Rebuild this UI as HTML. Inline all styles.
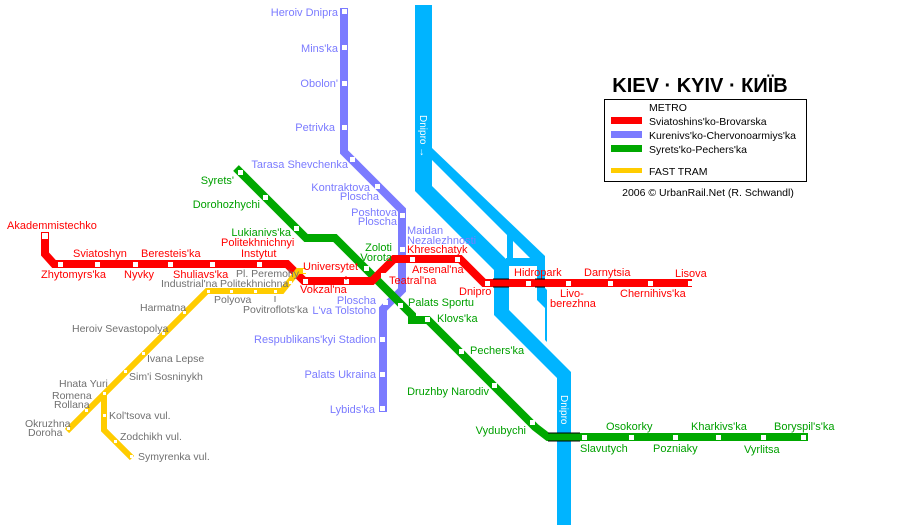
<!DOCTYPE html>
<html><head><meta charset="utf-8"><style>
html,body{margin:0;padding:0;background:#fff}
svg{display:block}
text{font-family:"Liberation Sans","DejaVu Sans",sans-serif;font-size:11px}
.r{fill:#f00}.b{fill:#7b7bff}.g{fill:#00a000}.y text{fill:#707070;font-size:10.5px}
.lg{font-size:10.5px}
.ttl{font-size:20px;font-weight:bold}
.rv{font-size:10px;fill:#fff}
</style></head><body>
<svg width="900" height="530" viewBox="0 0 900 530" xmlns="http://www.w3.org/2000/svg">
<!-- river -->
<g fill="#00b4ff" stroke="none">
<polygon points="415,5 432,5 432,186 509,262 509,310 571,372 571,525 557,525 557,378 494,315 494,270 415,191"/>
<polygon points="432,148 432,160 537,265 537,300 545,308 545,340 547,342 547,290 545,288 545,256 432,148"/>
<polygon points="506,258 541,258 541,266 506,266"/>
<polygon points="507,230 513,236 513,262 507,262"/>
</g>
<text x="0" y="0" transform="translate(420,115) rotate(90)" class="rv">Dnipro →</text>
<text x="0" y="0" transform="translate(561,395) rotate(90)" class="rv">Dnipro</text>

<!-- blue -->
<polyline points="344,8 344,152 402,210 402,290 383,309 383,412" fill="none" stroke="#7b7bff" stroke-width="8"/>
<!-- green -->
<polyline points="236,168 306,238 335,238 412,315 412,320 428,320 535,427 548,437 808,437" fill="none" stroke="#00a800" stroke-width="8"/>
<line x1="548" y1="433" x2="580" y2="433" stroke="#000" stroke-width="1"/>
<line x1="548" y1="441" x2="580" y2="441" stroke="#000" stroke-width="1"/>
<!-- red -->
<polyline points="45,232 45,254 54,264 287,264 304,281 372,281 394,259 460,259 484,283 692,283" fill="none" stroke="#f00" stroke-width="8"/>
<g stroke="#000" stroke-width="1"><line x1="493" y1="279" x2="509" y2="279"/><line x1="493" y1="287" x2="509" y2="287"/><line x1="535" y1="279" x2="545" y2="279"/><line x1="535" y1="287" x2="545" y2="287"/></g>
<!-- yellow -->
<polyline points="306,271 298,271 282,291 207,291 67,431" fill="none" stroke="#ffcc00" stroke-width="6"/>
<polyline points="104,394 104,430 132,458" fill="none" stroke="#ffcc00" stroke-width="6"/>

<!-- stations -->
<g fill="#fff">
<rect x="342" y="9" width="5" height="5"/><rect x="342" y="45" width="5" height="5"/><rect x="342" y="81" width="5" height="5"/><rect x="342" y="125" width="5" height="5"/><rect x="350" y="157" width="5" height="5"/><rect x="375" y="184" width="5" height="5"/><rect x="400" y="213" width="5" height="5"/><rect x="400" y="247" width="5" height="5"/><rect x="383" y="300" width="5" height="5"/><rect x="380" y="337" width="5" height="5"/><rect x="380" y="372" width="5" height="5"/><rect x="380" y="406" width="5" height="5"/>
<rect x="238" y="170" width="5" height="5"/><rect x="263" y="195" width="5" height="5"/><rect x="294" y="226" width="5" height="5"/><rect x="364" y="266" width="5" height="5"/><rect x="398" y="303" width="5" height="5"/><rect x="425" y="317" width="5" height="5"/><rect x="459" y="349" width="5" height="5"/><rect x="492" y="383" width="5" height="5"/><rect x="530" y="420" width="5" height="5"/>
<rect x="582" y="435" width="5" height="5"/><rect x="629" y="435" width="5" height="5"/><rect x="673" y="435" width="5" height="5"/><rect x="716" y="435" width="5" height="5"/><rect x="761" y="435" width="5" height="5"/><rect x="801" y="435" width="5" height="5"/>
<rect x="42" y="233" width="6" height="6"/><rect x="58" y="262" width="5" height="5"/><rect x="95" y="262" width="5" height="5"/><rect x="133" y="262" width="5" height="5"/><rect x="168" y="262" width="5" height="5"/><rect x="210" y="262" width="5" height="5"/><rect x="257" y="262" width="5" height="5"/>
<rect x="303" y="279" width="5" height="5"/><rect x="344" y="279" width="5" height="5"/><rect x="381" y="273" width="5" height="5"/><rect x="410" y="257" width="5" height="5"/><rect x="455" y="257" width="5" height="5"/><rect x="485" y="281" width="5" height="5"/><rect x="526" y="281" width="5" height="5"/><rect x="566" y="281" width="5" height="5"/><rect x="608" y="281" width="5" height="5"/><rect x="648" y="281" width="5" height="5"/><rect x="688" y="281" width="5" height="5"/>
<rect x="303" y="269" width="4" height="4"/><rect x="289" y="281" width="3" height="3"/><rect x="274" y="290" width="3" height="3"/><rect x="254" y="290" width="3" height="3"/><rect x="230" y="290" width="3" height="3"/><rect x="207" y="290" width="3" height="3"/><rect x="183" y="311" width="3" height="3"/><rect x="162" y="332" width="3" height="3"/><rect x="142" y="352" width="3" height="3"/><rect x="124" y="370" width="3" height="3"/><rect x="103" y="392" width="3" height="3"/><rect x="85" y="409" width="3" height="3"/><rect x="67" y="427" width="3" height="3"/><rect x="103" y="414" width="3" height="3"/><rect x="114" y="440" width="3" height="3"/><rect x="130" y="455" width="3" height="3"/>
</g>
<line x1="275" y1="296" x2="275" y2="302" stroke="#707070"/>
<line x1="346" y1="276" x2="346" y2="280" stroke="#f00"/>

<!-- blue labels -->
<g class="b" text-anchor="end">
<text x="338" y="16">Heroiv Dnipra</text><text x="338" y="52">Mins'ka</text><text x="338" y="87">Obolon'</text><text x="335" y="131">Petrivka</text><text x="348" y="168">Tarasa Shevchenka</text><text x="370" y="191">Kontraktova</text><text x="379" y="200">Ploscha</text><text x="397" y="216">Poshtova</text><text x="397" y="225">Ploscha</text><text x="376" y="304">Ploscha</text><text x="376" y="314">L'va Tolstoho</text><text x="376" y="343">Respublikans'kyi Stadion</text><text x="376" y="378">Palats Ukraina</text><text x="375" y="413">Lybids'ka</text>
</g>
<g class="b"><text x="407" y="234">Maidan</text><text x="407" y="244">Nezalezhnosti</text></g>
<!-- green labels -->
<g class="g" text-anchor="end"><text x="234" y="184">Syrets'</text><text x="260" y="208">Dorohozhychi</text><text x="291" y="236">Lukianivs'ka</text><text x="392" y="251">Zoloti</text><text x="392" y="261">Vorota</text><text x="489" y="395">Druzhby Narodiv</text><text x="526" y="434">Vydubychi</text></g>
<g class="g"><text x="408" y="306">Palats Sportu</text><text x="437" y="322">Klovs'ka</text><text x="470" y="354">Pechers'ka</text><text x="580" y="452">Slavutych</text><text x="606" y="430">Osokorky</text><text x="653" y="452">Pozniaky</text><text x="691" y="430">Kharkivs'ka</text><text x="744" y="453">Vyrlitsa</text><text x="774" y="430">Boryspil's'ka</text></g>
<!-- red labels -->
<g class="r"><text x="7" y="229">Akademmistechko</text><text x="73" y="257">Sviatoshyn</text><text x="141" y="257">Beresteis'ka</text><text x="221" y="246">Politekhnichnyi</text><text x="241" y="257">Instytut</text><text x="41" y="278">Zhytomyrs'ka</text><text x="124" y="278">Nyvky</text><text x="173" y="278">Shuliavs'ka</text><text x="303" y="270">Universytet</text><text x="300" y="293">Vokzal'na</text><text x="389" y="284">Teatral'na</text><text x="407" y="253">Khreschatyk</text><text x="412" y="273">Arsenal'na</text><text x="459" y="295">Dnipro</text><text x="514" y="276">Hidropark</text><text x="560" y="297">Livo-</text><text x="550" y="307">berezhna</text><text x="584" y="276">Darnytsia</text><text x="620" y="297">Chernihivs'ka</text><text x="675" y="277">Lisova</text></g>
<!-- yellow labels -->
<g class="y"><text x="236" y="277">Pl. Peremohy</text><text x="161" y="287">Industrial'na</text><text x="220" y="287">Politekhnichna</text><text x="214" y="303">Polyova</text><text x="243" y="313">Povitroflots'ka</text><text x="140" y="311">Harmatna</text><text x="72" y="332">Heroiv Sevastopolya</text><text x="147" y="362">Ivana Lepse</text><text x="129" y="380">Sim'i Sosninykh</text><text x="59" y="387">Hnata Yuri</text><text x="52" y="399">Romena</text><text x="54" y="408">Rollana</text><text x="25" y="427">Okruzhna</text><text x="28" y="436">Doroha</text><text x="109" y="419">Kol'tsova vul.</text><text x="120" y="440">Zodchikh vul.</text><text x="138" y="460">Symyrenka vul.</text></g>

<!-- title & legend -->
<text x="700" y="92" text-anchor="middle" class="ttl" fill="#000">KIEV · KYIV · КИЇВ</text>
<rect x="604.5" y="99.5" width="202" height="82" fill="none" stroke="#000"/>
<text x="649" y="111" fill="#000" class="lg">METRO</text>
<rect x="611" y="117" width="31" height="7" fill="#f00"/><text x="649" y="125" fill="#000" class="lg">Sviatoshins'ko-Brovarska</text>
<rect x="611" y="131" width="31" height="7" fill="#7b7bff"/><text x="649" y="139" fill="#000" class="lg">Kurenivs'ko-Chervonoarmiys'ka</text>
<rect x="611" y="145" width="31" height="7" fill="#00a800"/><text x="649" y="153" fill="#000" class="lg">Syrets'ko-Pechers'ka</text>
<rect x="611" y="168" width="31" height="5" fill="#ffcc00"/><text x="649" y="175" fill="#000" class="lg">FAST TRAM</text>
<text x="708" y="196" text-anchor="middle" fill="#000" class="lg">2006 © UrbanRail.Net (R. Schwandl)</text>
</svg>
</body></html>
